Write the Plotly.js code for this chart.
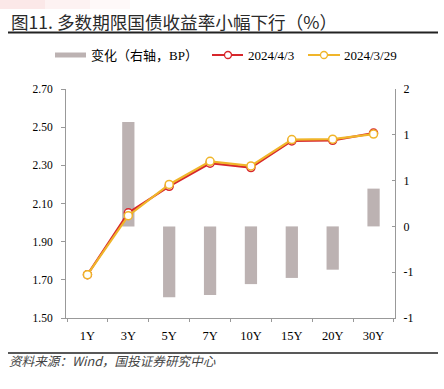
<!DOCTYPE html>
<html><head><meta charset="utf-8">
<script src="https://cdn.plot.ly/plotly-3.0.1.min.js"></script>
<style>html,body{margin:0;padding:0;background:#fff;}#chart{width:444px;height:389px;}</style>
</head><body><div id="chart"></div>
<script>
var categories = ["1Y","3Y","5Y","7Y","10Y","15Y","20Y","30Y"];
var yield0403 = [1.727, 2.051, 2.19, 2.311, 2.288, 2.428, 2.431, 2.469];
var yield0329 = [1.727, 2.036, 2.20, 2.321, 2.297, 2.435, 2.437, 2.464];
var changeBP = [0, 1.52, -1.03, -1.0, -0.84, -0.75, -0.63, 0.55];
var rightTickVals = [2, 1.3333, 0.6667, 0, -0.6667, -1.3333];
var rightTickText = ["2","1","1","0","-1","-1"];
var leftTickVals = [1.5, 1.7, 1.9, 2.1, 2.3, 2.5, 2.7];
var leftTickText = ["1.50","1.70","1.90","2.10","2.30","2.50","2.70"];
var seriesNames = ["变化（右轴，BP）", "2024/4/3", "2024/3/29"];
var seriesColors = ["#bcb2b2", "#d7262b", "#f0b52a"];

var serif = "Liberation Serif, Times New Roman, Noto Sans CJK SC, serif";
var ML = 66, MT = 89, PW = 329, PH = 229;
function px(x){ return (x - ML) / PW; }
function py(y){ return (MT + PH - y) / PH; }

var traces = [
  {type:"bar", name:seriesNames[0], x:categories, y:changeBP, yaxis:"y",
   marker:{color:seriesColors[0]}, width:0.3},
  {type:"scatter", mode:"lines+markers", name:seriesNames[1], x:categories, y:yield0403, yaxis:"y2",
   line:{color:seriesColors[1], width:2.2}, marker:{symbol:"circle", size:8, color:"#ffffff", line:{color:seriesColors[1], width:1.5}}},
  {type:"scatter", mode:"lines+markers", name:seriesNames[2], x:categories, y:yield0329, yaxis:"y2",
   line:{color:seriesColors[2], width:2.2}, marker:{symbol:"circle", size:8, color:"#ffffff", line:{color:seriesColors[2], width:1.5}}}
];

var shapes = [
  {type:"rect", xref:"paper", yref:"paper", x0:px(0), x1:px(45), y0:py(0), y1:py(9), line:{width:0}, fillcolor:"rgba(230,110,110,0.16)", layer:"below"},
  {type:"rect", xref:"paper", yref:"paper", x0:px(45), x1:px(90), y0:py(0), y1:py(9), line:{width:0}, fillcolor:"rgba(230,110,110,0.09)", layer:"below"},
  {type:"rect", xref:"paper", yref:"paper", x0:px(90), x1:px(130), y0:py(0), y1:py(9), line:{width:0}, fillcolor:"rgba(230,110,110,0.04)", layer:"below"},
  {type:"line", xref:"paper", yref:"paper", x0:px(8), x1:px(438), y0:py(32.5), y1:py(32.5), line:{color:"#222", width:2}},
  {type:"line", xref:"paper", yref:"paper", x0:px(8), x1:px(438), y0:py(353), y1:py(353), line:{color:"#222", width:1.5}},
  // legend keys
  {type:"rect", xref:"paper", yref:"paper", x0:px(55), x1:px(86), y0:py(52.5), y1:py(57.5), line:{width:0}, fillcolor:seriesColors[0]},
  {type:"line", xref:"paper", yref:"paper", x0:px(212), x1:px(243), y0:py(55), y1:py(55), line:{color:seriesColors[1], width:2}},
  {type:"circle", xref:"paper", yref:"paper", x0:px(224.5), x1:px(231.5), y0:py(51.5), y1:py(58.5), line:{color:seriesColors[1], width:1.3}, fillcolor:"#fff"},
  {type:"line", xref:"paper", yref:"paper", x0:px(308), x1:px(340), y0:py(55), y1:py(55), line:{color:seriesColors[2], width:2}},
  {type:"circle", xref:"paper", yref:"paper", x0:px(320.5), x1:px(327.5), y0:py(51.5), y1:py(58.5), line:{color:seriesColors[2], width:1.3}, fillcolor:"#fff"}
];

var annotations = [
  {xref:"paper", yref:"paper", x:px(9), y:py(21), xanchor:"left", yanchor:"middle", showarrow:false,
   text:"图11. 多数期限国债收益率小幅下行（%）", font:{family:"Noto Sans CJK SC, sans-serif", size:17.6, color:"#2a2a2a"}},
  {xref:"paper", yref:"paper", x:px(7), y:py(360.5), xanchor:"left", yanchor:"middle", showarrow:false,
   text:"<i>资料来源：Wind，国投证券研究中心</i>", font:{family:"Noto Sans CJK SC, sans-serif", size:12.6, color:"#444"}},
  {xref:"paper", yref:"paper", x:px(89), y:py(55), xanchor:"left", yanchor:"middle", showarrow:false,
   text:seriesNames[0], font:{family:serif, size:13, color:"#000"}},
  {xref:"paper", yref:"paper", x:px(246), y:py(55), xanchor:"left", yanchor:"middle", showarrow:false,
   text:seriesNames[1], font:{family:serif, size:13, color:"#000"}},
  {xref:"paper", yref:"paper", x:px(342), y:py(55), xanchor:"left", yanchor:"middle", showarrow:false,
   text:seriesNames[2], font:{family:serif, size:13, color:"#000"}}
];

var layout = {
  width:444, height:389,
  margin:{l:ML, r:444-ML-PW, t:MT, b:389-MT-PH},
  paper_bgcolor:"#fff", plot_bgcolor:"#fff",
  showlegend:false,
  font:{family:serif, size:12, color:"#000"},
  xaxis:{type:"category", showline:true, linecolor:"#999", linewidth:1, ticks:"outside", tickson:"boundaries",
         ticklen:3, tickcolor:"#999", showgrid:false, zeroline:false, ticklabelstandoff:6,
         tickfont:{family:serif, size:12.5, color:"#000"}},
  yaxis:{side:"right", range:[-1.3333, 2], tickvals:rightTickVals, ticktext:rightTickText,
         showline:true, linecolor:"#999", ticks:"inside", ticklen:3, tickcolor:"#999", ticklabelstandoff:5,
         showgrid:false, zeroline:false, tickfont:{family:serif, size:12, color:"#000"}},
  yaxis2:{side:"left", overlaying:"y", range:[1.5, 2.7], tickvals:leftTickVals, ticktext:leftTickText,
         showline:true, linecolor:"#999", ticks:"outside", ticklen:4, tickcolor:"#999", ticklabelstandoff:6,
         showgrid:false, zeroline:false, tickfont:{family:serif, size:11.5, color:"#000"}},
  shapes:shapes,
  annotations:annotations
};
Plotly.newPlot("chart", traces, layout, {displayModeBar:false, staticPlot:true});
</script></body></html>
